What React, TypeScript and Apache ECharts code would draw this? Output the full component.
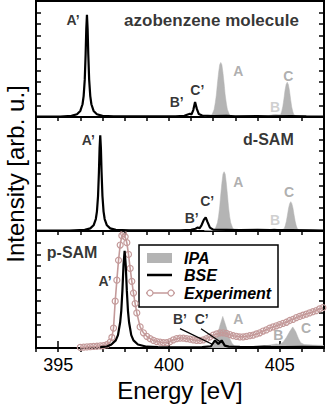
import React, { useEffect, useRef } from "react";
import * as echarts from "echarts";

const FONT = '"Liberation Sans", Arial, Helvetica, sans-serif';

const ENERGY_MIN = 394;
const ENERGY_MAX = 407;
const energyLabels = [395, 400, 405];

// Panel 1: azobenzene molecule
const molIPA: number[][] = [
  [401.6, 0.004], [401.84, 0.006], [401.94, 0.017], [402.04, 0.065], [402.09, 0.12], [402.14, 0.19],
  [402.19, 0.29], [402.24, 0.38], [402.29, 0.45], [402.34, 0.47], [402.39, 0.45], [402.44, 0.38],
  [402.49, 0.29], [402.54, 0.19], [402.59, 0.12], [402.64, 0.065], [402.74, 0.017], [402.84, 0.007],
  [403.2, 0.006], [403.6, 0.005], [403.95, 0.012], [404.1, 0.007], [404.45, 0.01], [404.7, 0.02],
  [404.82, 0.022], [404.94, 0.02], [405.04, 0.02], [405.09, 0.048], [405.14, 0.09], [405.19, 0.155],
  [405.24, 0.23], [405.29, 0.28], [405.34, 0.3], [405.39, 0.28], [405.44, 0.23], [405.49, 0.155],
  [405.54, 0.09], [405.59, 0.048], [405.64, 0.02], [405.74, 0.008], [406.1, 0.008], [406.5, 0.006],
  [407.0, 0.005],
];
const molBSE: number[][] = [
  [394.0, 0.004], [395.1, 0.004], [395.6, 0.01], [395.85, 0.024], [396.0, 0.052], [396.1, 0.11],
  [396.15, 0.18], [396.2, 0.32], [396.24, 0.54], [396.27, 0.76], [396.3, 0.88], [396.33, 0.76],
  [396.36, 0.54], [396.4, 0.32], [396.45, 0.18], [396.5, 0.11], [396.6, 0.052], [396.75, 0.024],
  [397.0, 0.01], [397.5, 0.005], [398.5, 0.005], [399.5, 0.005], [400.3, 0.006], [400.7, 0.01],
  [400.85, 0.022], [400.95, 0.028], [401.02, 0.022], [401.1, 0.06], [401.18, 0.13], [401.26, 0.07],
  [401.35, 0.025], [401.5, 0.012], [402.0, 0.008], [402.6, 0.01], [403.0, 0.006], [404.0, 0.008],
  [404.5, 0.006], [405.5, 0.007], [406.2, 0.005], [407.0, 0.004],
];

// Panel 2: d-SAM
const dsamIPA: number[][] = [
  [401.6, 0.004], [402.0, 0.008], [402.09, 0.02], [402.19, 0.072], [402.24, 0.13], [402.29, 0.21],
  [402.34, 0.32], [402.39, 0.42], [402.44, 0.5], [402.49, 0.52], [402.54, 0.5], [402.59, 0.42],
  [402.64, 0.32], [402.69, 0.21], [402.74, 0.13], [402.79, 0.072], [402.89, 0.02], [403.0, 0.008],
  [403.4, 0.006], [403.9, 0.01], [404.3, 0.008], [404.6, 0.015], [404.75, 0.022], [404.9, 0.015],
  [405.1, 0.012], [405.2, 0.02], [405.25, 0.045], [405.3, 0.085], [405.35, 0.14], [405.4, 0.2],
  [405.45, 0.24], [405.5, 0.257], [405.55, 0.24], [405.6, 0.2], [405.65, 0.14], [405.7, 0.085],
  [405.75, 0.045], [405.8, 0.02], [405.9, 0.008], [406.3, 0.006], [407.0, 0.005],
];
const dsamBSE: number[][] = [
  [394.0, 0.004], [395.5, 0.004], [396.2, 0.01], [396.45, 0.023], [396.6, 0.05], [396.7, 0.105],
  [396.75, 0.17], [396.8, 0.305], [396.84, 0.515], [396.87, 0.725], [396.9, 0.84], [396.93, 0.725],
  [396.96, 0.515], [397.0, 0.305], [397.05, 0.17], [397.1, 0.105], [397.2, 0.05], [397.35, 0.023],
  [397.6, 0.01], [398.2, 0.006], [399.5, 0.005], [400.5, 0.006], [401.0, 0.01], [401.2, 0.02],
  [401.3, 0.03], [401.38, 0.024], [401.47, 0.05], [401.58, 0.1], [401.66, 0.12], [401.74, 0.08],
  [401.85, 0.03], [402.0, 0.012], [402.6, 0.01], [403.2, 0.007], [404.0, 0.01], [404.6, 0.008],
  [405.5, 0.007], [406.5, 0.005], [407.0, 0.004],
];

// Panel 3: p-SAM
const psamIPA: number[][] = [
  [401.6, 0.005], [401.9, 0.01], [402.0, 0.02], [402.1, 0.06], [402.2, 0.12], [402.3, 0.19],
  [402.43, 0.27], [402.55, 0.2], [402.65, 0.14], [402.75, 0.08], [402.85, 0.04], [402.95, 0.02],
  [403.2, 0.012], [403.6, 0.012], [404.0, 0.015], [404.4, 0.02], [404.7, 0.03], [404.85, 0.035],
  [405.0, 0.03], [405.15, 0.05], [405.3, 0.09], [405.45, 0.14], [405.59, 0.18], [405.72, 0.14],
  [405.85, 0.08], [405.95, 0.045], [406.1, 0.03], [406.5, 0.025], [407.0, 0.022],
];
const psamBSE: number[][] = [
  [396.9, 0.008], [397.2, 0.013], [397.4, 0.03], [397.6, 0.065], [397.7, 0.11], [397.8, 0.22],
  [397.85, 0.32], [397.9, 0.49], [397.95, 0.71], [398.0, 0.83], [398.05, 0.71], [398.1, 0.49],
  [398.15, 0.32], [398.2, 0.22], [398.3, 0.11], [398.4, 0.065], [398.6, 0.03], [399.0, 0.011],
  [399.5, 0.007], [400.5, 0.006], [401.5, 0.008], [401.9, 0.015], [402.08, 0.065], [402.23, 0.035],
  [402.38, 0.065], [402.52, 0.02], [402.7, 0.012], [403.2, 0.009], [403.8, 0.007], [404.3, 0.012],
  [404.6, 0.01], [405.2, 0.008], [406.0, 0.009], [407.0, 0.008],
];
const psamExp: number[][] = [
  [396.0, 0.005], [396.15, 0.007], [396.3, 0.009], [396.45, 0.011], [396.6, 0.013], [396.75, 0.015],
  [396.9, 0.018], [397.05, 0.021], [397.2, 0.028], [397.35, 0.05], [397.425, 0.09], [397.5, 0.17],
  [397.575, 0.4], [397.65, 0.58], [397.725, 0.75], [397.8, 0.88], [397.875, 0.96], [397.95, 0.98],
  [398.025, 0.95], [398.1, 0.9], [398.175, 0.8], [398.25, 0.68], [398.325, 0.57], [398.4, 0.47],
  [398.475, 0.38], [398.55, 0.3], [398.7, 0.18], [398.85, 0.13], [399.0, 0.1], [399.15, 0.08],
  [399.3, 0.065], [399.45, 0.055], [399.6, 0.05], [399.75, 0.045], [399.9, 0.045], [400.05, 0.055],
  [400.2, 0.07], [400.35, 0.08], [400.5, 0.085], [400.65, 0.085], [400.8, 0.08], [400.95, 0.075],
  [401.1, 0.07], [401.25, 0.065], [401.4, 0.065], [401.55, 0.07], [401.7, 0.08], [401.85, 0.095],
  [402.0, 0.11], [402.15, 0.12], [402.3, 0.13], [402.45, 0.13], [402.6, 0.125], [402.75, 0.115],
  [402.9, 0.105], [403.05, 0.1], [403.2, 0.095], [403.35, 0.095], [403.5, 0.1], [403.65, 0.105],
  [403.8, 0.11], [403.95, 0.12], [404.1, 0.13], [404.25, 0.145], [404.4, 0.155], [404.55, 0.17],
  [404.7, 0.18], [404.85, 0.19], [405.0, 0.2], [405.15, 0.21], [405.3, 0.22], [405.45, 0.235],
  [405.6, 0.245], [405.75, 0.26], [405.9, 0.27], [406.05, 0.28], [406.2, 0.29], [406.35, 0.3],
  [406.5, 0.31], [406.65, 0.32], [406.8, 0.335], [406.95, 0.345],
];
const bPointer: number[][] = [[400.5, 0.165], [401.98, 0.03]];
const cPointer: number[][] = [[401.45, 0.165], [402.38, 0.045]];

// Labels: [energy, intensity, text, kind]
const molLabels: [number, number, string, string][] = [
  [395.67, 0.836, "A’", "k"], [400.35, 0.13, "B’", "k"], [401.28, 0.23, "C’", "k"],
  [403.13, 0.4, "A", "g"], [404.79, 0.09, "B", "lg"], [405.39, 0.35, "C", "g"],
  [401.92, 0.836, "azobenzene molecule", "t"],
];
const dsamLabels: [number, number, string, string][] = [
  [396.36, 0.8, "A’", "k"], [401.03, 0.11, "B’", "k"], [401.73, 0.26, "C’", "k"],
  [403.13, 0.43, "A", "g"], [404.79, 0.1, "B", "lg"], [405.42, 0.345, "C", "g"],
  [404.49, 0.8, "d-SAM", "t"],
];
const psamLabels: [number, number, string, string][] = [
  [397.12, 0.57, "A’", "k"], [400.5, 0.245, "B’", "k"], [401.48, 0.245, "C’", "k"],
  [403.13, 0.245, "A", "g"], [404.94, 0.11, "B", "g"], [406.19, 0.17, "C", "g"],
  [395.63, 0.82, "p-SAM", "t"],
];

const IPA_COLOR = "#b4b4b4";
const EXP_COLOR = "#c49a9a";

function buildOption() {
  const gridDefs = [
    { top: 1, height: 116 },
    { top: 117, height: 114 },
    { top: 231, height: 117 },
  ];
  const grid = gridDefs.map((g) => ({
    ...g,
    left: 36,
    width: 288,
    show: true,
    borderColor: "#000",
    borderWidth: 2,
    backgroundColor: "transparent",
  }));

  const xAxis: any[] = [0, 1, 2].map((i) => ({
    type: "value",
    gridIndex: i,
    min: ENERGY_MIN,
    max: ENERGY_MAX,
    interval: 1,
    axisLine: { show: true, onZero: false, lineStyle: { color: "#000", width: 2 } },
    axisTick: { show: true, inside: false, length: 4, lineStyle: { color: "#000", width: 1.5 } },
    axisLabel:
      i === 2
        ? { show: true, customValues: energyLabels, fontSize: 18, color: "#000", margin: 8, fontFamily: FONT }
        : { show: false },
    splitLine: { show: false },
    name: i === 2 ? "Energy [eV]" : "",
    nameLocation: "middle",
    nameGap: 30,
    nameTextStyle: { fontSize: 24, color: "#000", fontFamily: FONT },
  }));
  xAxis.push({
    type: "value",
    gridIndex: 2,
    min: ENERGY_MIN,
    max: ENERGY_MAX,
    interval: 1,
    axisLine: { show: false },
    axisTick: { show: true, customValues: energyLabels, length: 7, lineStyle: { color: "#000", width: 1.5 } },
    axisLabel: { show: false },
    splitLine: { show: false },
  });

  const yAxis: any[] = [];
  [0, 1, 2].forEach((i) => {
    ["left", "right"].forEach((pos) => {
      yAxis.push({
        type: "value",
        gridIndex: i,
        min: 0,
        max: 1,
        interval: 0.1,
        position: pos,
        axisLine: { show: false },
        axisTick: { show: true, inside: true, length: 5, lineStyle: { color: "#000", width: 1.5 } },
        axisLabel: { show: false },
        splitLine: { show: false },
      });
    });
  });

  const ipa = (data: number[][], i: number) => ({
    type: "line",
    xAxisIndex: i,
    yAxisIndex: 2 * i,
    data,
    showSymbol: false,
    symbol: "none",
    lineStyle: { color: IPA_COLOR, width: 0.5 },
    areaStyle: { color: IPA_COLOR, opacity: 1 },
    z: 1,
    silent: true,
  });
  const bse = (data: number[][], i: number) => ({
    type: "line",
    xAxisIndex: i,
    yAxisIndex: 2 * i,
    data,
    showSymbol: false,
    symbol: "none",
    lineStyle: { color: "#000", width: 2.2 },
    z: 4,
    silent: true,
  });
  const pointer = (data: number[][]) => ({
    type: "line",
    xAxisIndex: 2,
    yAxisIndex: 4,
    data,
    showSymbol: false,
    symbol: "none",
    lineStyle: { color: "#000", width: 1.3 },
    z: 5,
    silent: true,
  });
  const labelColor: Record<string, string> = { k: "#000", g: "#9a9a9a", lg: "#c4c4c4", t: "#000" };
  const labels = (list: [number, number, string, string][], i: number) => ({
    type: "scatter",
    xAxisIndex: i,
    yAxisIndex: 2 * i,
    symbolSize: 1,
    itemStyle: { color: "transparent" },
    silent: true,
    z: 6,
    data: list.map(([x, y, t, k]) => ({
      name: t,
      value: [x, y],
      label: {
        color: labelColor[k],
        fontSize: k === "t" ? (t.length > 8 ? 17 : 16) : 14,
      },
    })),
    label: {
      show: true,
      position: "inside",
      formatter: "{b}",
      fontWeight: "bold",
      fontFamily: FONT,
      fontSize: 14,
    },
  });

  const series: any[] = [
    ipa(molIPA, 0),
    bse(molBSE, 0),
    labels(molLabels, 0),
    ipa(dsamIPA, 1),
    bse(dsamBSE, 1),
    labels(dsamLabels, 1),
    ipa(psamIPA, 2),
    {
      type: "line",
      xAxisIndex: 2,
      yAxisIndex: 4,
      data: psamExp,
      symbol: "circle",
      symbolSize: 6,
      showSymbol: true,
      showAllSymbol: true,
      itemStyle: { color: "transparent", borderColor: EXP_COLOR, borderWidth: 1.2 },
      lineStyle: { color: EXP_COLOR, width: 1.6 },
      z: 3,
      silent: true,
    },
    bse(psamBSE, 2),
    pointer(bPointer),
    pointer(cPointer),
    labels(psamLabels, 2),
  ];

  const legendText = (y: number, text: string) => ({
    type: "text",
    x: 184,
    y,
    style: {
      text,
      fontSize: 16,
      fontWeight: "bold",
      fontStyle: "italic",
      fontFamily: FONT,
      fill: "#000",
      verticalAlign: "middle",
      align: "left",
    },
  });

  const graphic: any[] = [
    {
      type: "text",
      x: 15,
      y: 174,
      rotation: Math.PI / 2,
      style: {
        text: "Intensity [arb. u.]",
        fontSize: 24,
        fontFamily: FONT,
        fill: "#000",
        align: "center",
        verticalAlign: "middle",
      },
    },
    {
      type: "group",
      z: 100,
      children: [
        {
          type: "rect",
          shape: { x: 139, y: 245, width: 139, height: 62 },
          style: { fill: "#fff", stroke: "#000", lineWidth: 1.5 },
        },
        { type: "rect", shape: { x: 147, y: 253, width: 25, height: 10 }, style: { fill: IPA_COLOR } },
        { type: "line", shape: { x1: 147, y1: 275, x2: 172, y2: 275 }, style: { stroke: "#000", lineWidth: 2.5 } },
        { type: "line", shape: { x1: 146, y1: 293, x2: 175, y2: 293 }, style: { stroke: EXP_COLOR, lineWidth: 1.5 } },
        { type: "circle", shape: { cx: 150, cy: 293, r: 3 }, style: { fill: "#fff", stroke: EXP_COLOR, lineWidth: 1.2 } },
        { type: "circle", shape: { cx: 171, cy: 293, r: 3 }, style: { fill: "#fff", stroke: EXP_COLOR, lineWidth: 1.2 } },
        legendText(258, "IPA"),
        legendText(275, "BSE"),
        legendText(293, "Experiment"),
      ],
    },
  ];

  return {
    animation: false,
    backgroundColor: "#fff",
    textStyle: { fontFamily: FONT },
    grid,
    xAxis,
    yAxis,
    series,
    graphic,
  };
}

export default function App() {
  const ref = useRef<HTMLDivElement>(null);
  useEffect(() => {
    if (!ref.current) return;
    const chart = echarts.init(ref.current, null, { renderer: "svg" });
    chart.setOption(buildOption() as any);
    return () => chart.dispose();
  }, []);
  return (
    <div
      ref={ref}
      style={{ position: "absolute", left: 0, top: 0, width: 332, height: 412 }}
    />
  );
}
